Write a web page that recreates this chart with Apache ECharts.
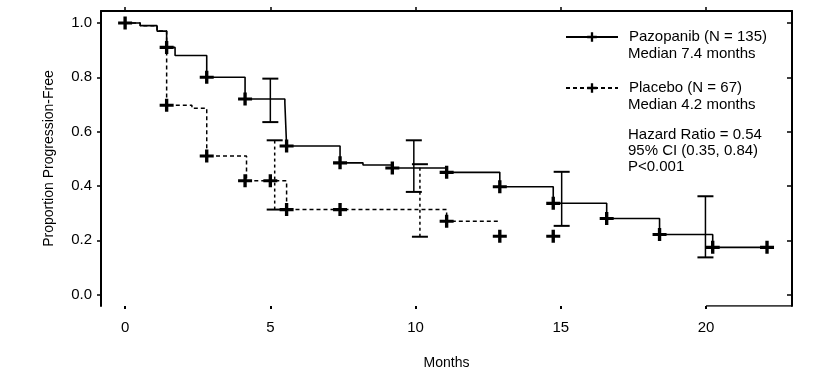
<!DOCTYPE html>
<html>
<head>
<meta charset="utf-8">
<script src="https://cdn.jsdelivr.net/npm/echarts@6/dist/echarts.min.js"></script>
<style>
  html, body { margin: 0; padding: 0; background: #fff; }
  #main { width: 818px; height: 377px; }
</style>
</head>
<body>
<div id="main"></div>
<script>
// Kaplan-Meier steps
var pazTimes = [0, 0.52, 1.1, 1.43, 1.72, 2.81, 4.13, 5.5, 5.56, 7.4, 8.19, 9.2, 11.07, 12.9, 14.74, 16.58, 18.4, 20.23, 22.1];
var pazSurv  = [1.0, 0.99, 0.97, 0.91, 0.88, 0.80, 0.72, 0.705, 0.547, 0.485, 0.477, 0.466, 0.45, 0.397, 0.336, 0.28, 0.221, 0.174, 0.174];
var plaTimes = [0, 0.52, 1.1, 1.43, 2.3, 2.81, 4.18, 5.56, 11.07, 12.9];
var plaSurv  = [1.0, 0.99, 0.97, 0.697, 0.686, 0.51, 0.419, 0.313, 0.27, 0.27];

// censor marks (+)
var pazCensorT = [0, 1.43, 2.81, 4.13, 5.56, 7.4, 9.2, 11.07, 12.9, 14.74, 16.58, 18.4, 20.23, 22.1];
var pazCensorS = [1.0, 0.91, 0.80, 0.72, 0.547, 0.485, 0.466, 0.45, 0.397, 0.336, 0.28, 0.221, 0.174, 0.174];
var plaCensorT = [1.43, 2.81, 4.13, 5.0, 5.56, 7.4, 11.07, 12.9, 14.74];
var plaCensorS = [0.697, 0.51, 0.419, 0.419, 0.313, 0.313, 0.27, 0.215, 0.215];

// 95% CI bars
var pazCiT  = [5.0, 9.94, 15.03, 19.98];
var pazCiLo = [0.635, 0.378, 0.253, 0.137];
var pazCiHi = [0.795, 0.568, 0.452, 0.362];
var plaCiT  = [5.15, 10.15];
var plaCiLo = [0.313, 0.213];
var plaCiHi = [0.568, 0.48];

var xTicks = [0, 5, 10, 15, 20];
var yTicks = [0, 0.2, 0.4, 0.6, 0.8, 1.0];
var xMin = -0.83, xMax = 22.96, yMin = -0.042, yMax = 1.044;

var FONT = "'Liberation Sans Narrow', 'Arial Narrow', 'Liberation Sans', sans-serif";
var plus = 'path://M3.8,0 H6.2 V3.8 H10 V6.2 H6.2 V10 H3.8 V6.2 H0 V3.8 H3.8 Z';

function zip(a, b) {
    var out = [];
    for (var i = 0; i < a.length; i++) out.push([a[i], b[i]]);
    return out;
}

function ciData(t, lo, hi) {
    var out = [];
    for (var i = 0; i < t.length; i++) out.push([t[i], lo[i], hi[i]]);
    return out;
}

function ciRender(dashed) {
    return function (params, api) {
        var lo = api.coord([api.value(0), api.value(1)]);
        var hi = api.coord([api.value(0), api.value(2)]);
        var w = 8;
        var style = { stroke: '#000', lineWidth: 1.5, lineDash: dashed ? [3, 3] : null };
        return {
            type: 'group',
            children: [
                { type: 'line', shape: { x1: lo[0], y1: lo[1], x2: hi[0], y2: hi[1] }, style: style },
                { type: 'line', shape: { x1: hi[0] - w, y1: hi[1], x2: hi[0] + w, y2: hi[1] }, style: { stroke: '#000', lineWidth: 2 } },
                { type: 'line', shape: { x1: lo[0] - w, y1: lo[1], x2: lo[0] + w, y2: lo[1] }, style: { stroke: '#000', lineWidth: 2 } }
            ]
        };
    };
}

var option = {
    backgroundColor: '#fff',
    animation: false,
    textStyle: { fontFamily: FONT, color: '#000' },
    grid: { left: 101, right: 26, top: 11, bottom: 71 },
    legend: {
        orient: 'vertical',
        left: 565,
        top: 29,
        padding: 0,
        itemWidth: 52,
        itemHeight: 12,
        itemGap: 35,
        textStyle: { fontFamily: FONT, fontSize: 15, lineHeight: 16, color: '#000', padding: [0, 0, 0, 6] },
        data: ['Pazopanib (N = 135)', 'Placebo (N = 67)']
    },
    graphic: [
        { type: 'text', left: 628, top: 46, style: { text: 'Median 7.4 months', font: '15px ' + FONT, fill: '#000' } },
        { type: 'text', left: 628, top: 97, style: { text: 'Median 4.2 months', font: '15px ' + FONT, fill: '#000' } },
        { type: 'text', left: 628, top: 127, style: { text: 'Hazard Ratio = 0.54\n95% CI (0.35, 0.84)\nP<0.001', font: '15px ' + FONT, fill: '#000', lineHeight: 16 } }
    ],
    xAxis: [{
        type: 'value',
        min: xMin, max: xMax,
        name: 'Months',
        nameLocation: 'middle',
        nameGap: 50,
        nameTextStyle: { fontFamily: FONT, fontSize: 14, color: '#000' },
        axisLine: { show: false, onZero: false },
        axisTick: { show: true, customValues: xTicks, length: 3, lineStyle: { color: '#000', width: 2 } },
        axisLabel: { customValues: xTicks, margin: 14, fontFamily: FONT, fontSize: 15, color: '#000' },
        splitLine: { show: false }
    }, {
        type: 'value',
        position: 'top',
        min: xMin, max: xMax,
        axisLine: { show: true, onZero: false, lineStyle: { color: '#000', width: 2 } },
        axisTick: { show: true, customValues: xTicks, length: 4, lineStyle: { color: '#000', width: 1.5 } },
        axisLabel: { show: false },
        splitLine: { show: false }
    }],
    yAxis: [{
        type: 'value',
        min: yMin, max: yMax,
        name: 'Proportion Progression-Free',
        nameLocation: 'middle',
        nameGap: 45,
        nameTextStyle: { fontFamily: FONT, fontSize: 14, color: '#000' },
        axisLine: { show: true, onZero: false, lineStyle: { color: '#000', width: 2 } },
        axisTick: { show: true, customValues: yTicks, length: 4, lineStyle: { color: '#000', width: 1.5 } },
        axisLabel: {
            customValues: yTicks, margin: 9, fontFamily: FONT, fontSize: 15, color: '#000',
            formatter: function (v) { return v.toFixed(1); }
        },
        splitLine: { show: false }
    }, {
        type: 'value',
        position: 'right',
        min: yMin, max: yMax,
        axisLine: { show: true, onZero: false, lineStyle: { color: '#000', width: 2 } },
        axisTick: { show: true, inside: true, customValues: yTicks, length: 5, lineStyle: { color: '#000', width: 1.5 } },
        axisLabel: { show: false },
        splitLine: { show: false }
    }],
    series: [
        {
            name: 'Placebo (N = 67)',
            type: 'line',
            step: 'end',
            data: zip(plaTimes, plaSurv),
            symbol: plus,
            symbolSize: 12,
            showSymbol: false,
            itemStyle: { color: '#000' },
            lineStyle: { color: '#000', width: 1.5, type: [4, 3] },
            z: 2
        },
        {
            name: 'Pazopanib (N = 135)',
            type: 'line',
            step: 'end',
            data: zip(pazTimes, pazSurv),
            symbol: plus,
            symbolSize: 12,
            showSymbol: false,
            itemStyle: { color: '#000' },
            lineStyle: { color: '#000', width: 1.6 },
            z: 3
        },
        {
            name: 'pazCensor',
            type: 'scatter',
            data: zip(pazCensorT, pazCensorS),
            symbol: plus,
            symbolSize: [14, 13],
            itemStyle: { color: '#000', opacity: 1 },
            z: 4
        },
        {
            name: 'plaCensor',
            type: 'scatter',
            data: zip(plaCensorT, plaCensorS),
            symbol: plus,
            symbolSize: [14, 13],
            itemStyle: { color: '#000', opacity: 1 },
            z: 4
        },
        {
            name: 'pazCI',
            type: 'custom',
            renderItem: ciRender(false),
            data: ciData(pazCiT, pazCiLo, pazCiHi),
            z: 3
        },
        {
            name: 'plaCI',
            type: 'custom',
            renderItem: ciRender(true),
            data: ciData(plaCiT, plaCiLo, plaCiHi),
            z: 3
        },
        {
            name: 'bottomEdge',
            type: 'line',
            data: [[20, yMin], [xMax, yMin]],
            symbol: 'none',
            lineStyle: { color: '#000', width: 1.5 },
            z: 1
        }
    ]
};

var myChart = echarts.init(document.getElementById('main'));
myChart.setOption(option);
</script>
</body>
</html>
